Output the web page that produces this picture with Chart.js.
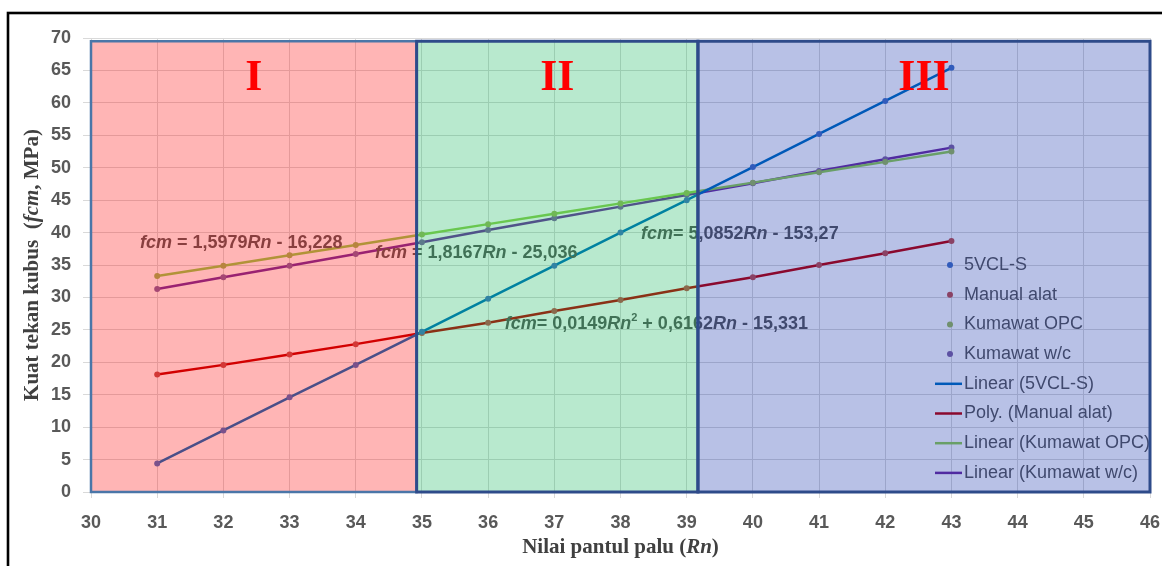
<!DOCTYPE html>
<html><head><meta charset="utf-8">
<script src="https://cdn.jsdelivr.net/npm/chart.js@4.4.1/dist/chart.umd.min.js"></script>
<style>html,body{margin:0;padding:0;background:#fff;}#wrap{width:1162px;height:566px;position:relative;}</style>
</head><body><div id="wrap"><canvas id="c" width="1162" height="566"></canvas></div>
<script>
// ---- data ----
const rn = [31, 32, 33, 34, 35, 36, 37, 38, 39, 40, 41, 42, 43];
const vcl5S = [4.4, 9.5, 14.6, 19.6, 24.7, 29.8, 34.9, 40.0, 45.0, 50.1, 55.2, 60.3, 65.4];
const manualAlat = [18.1, 19.6, 21.2, 22.8, 24.5, 26.1, 27.9, 29.6, 31.4, 33.1, 35.0, 36.8, 38.7];
const kumawatOPC = [33.3, 34.9, 36.5, 38.1, 39.7, 41.3, 42.9, 44.5, 46.1, 47.7, 49.3, 50.9, 52.5];
const kumawatWC = [31.3, 33.1, 34.9, 36.7, 38.5, 40.4, 42.2, 44.0, 45.8, 47.6, 49.5, 51.3, 53.1];
const seriesNames = ['5VCL-S', 'Manual alat', 'Kumawat OPC', 'Kumawat w/c'];
const trendNames = ['Linear (5VCL-S)', 'Poly. (Manual alat)', 'Linear (Kumawat OPC)', 'Linear (Kumawat w/c)'];
const xTickValues = [30, 31, 32, 33, 34, 35, 36, 37, 38, 39, 40, 41, 42, 43, 44, 45, 46];
const yTickValues = [0, 5, 10, 15, 20, 25, 30, 35, 40, 45, 50, 55, 60, 65, 70];
const zoneBounds = [30, 34.92, 39.17, 46];
const zoneNames = ['I', 'II', 'III'];
const eqTexts = [
  [['fcm','i'], [' = 1,5979',''], ['Rn','i'], [' - 16,228','']],
  [['fcm','i'], [' = 1,8167',''], ['Rn','i'], [' - 25,036','']],
  [['fcm','i'], ['= 5,0852',''], ['Rn','i'], [' - 153,27','']],
  [['fcm','i'], ['= 0,0149',''], ['Rn','i'], ['2','sup'], [' + 0,6162',''], ['Rn','i'], [' - 15,331','']]
];
const yTitle = [['Kuat tekan kubus  (',''], ['fcm','i'], [', MPa)','']];
const xTitle = [['Nilai pantul palu (',''], ['Rn','i'], [')','']];

// ---- styles ----
const SANS = '"Liberation Sans", Arial, sans-serif';
const SERIF = '"Liberation Serif", "Times New Roman", serif';
const markerColors = ['#4472C4', '#C0504D', '#9BBB59', '#8064A2'];
const trendColors = ['#0070C0', '#C00000', '#92D050', '#7030A0'];
const zoneFills = ['rgba(255,0,0,0.29)', 'rgba(0,176,80,0.28)', 'rgba(0,32,166,0.28)'];
const zoneStroke = ['#4A76A8', '#2E4B8A', '#2E4B8A'];
const eqPos = [[30.74, 38.4], [34.29, 36.85], [38.31, 39.8], [36.25, 25.9]];

const pts = ys => rn.map((x, i) => ({x, y: ys[i]}));
const allSeries = [vcl5S, manualAlat, kumawatOPC, kumawatWC];

const datasets = [];
allSeries.forEach((s, i) => datasets.push({
  label: seriesNames[i], data: pts(s), showLine: false,
  pointRadius: 3, pointBackgroundColor: markerColors[i], pointBorderColor: markerColors[i],
  pointBorderWidth: 0, order: 0, kind: 'marker'
}));
allSeries.forEach((s, i) => datasets.push({
  label: trendNames[i], data: pts(s), showLine: true, pointRadius: 0,
  borderColor: trendColors[i], borderWidth: 2.5, tension: 0, fill: false, order: 1, kind: 'trend'
}));

function drawParts(ctx, parts, x, y, size, family, align) {
  const fontOf = st => st === 'i' ? `italic bold ${size}px ${family}` :
                       st === 'sup' ? `bold ${Math.round(size*0.62)}px ${family}` : `bold ${size}px ${family}`;
  let total = 0;
  const ws = parts.map(([t, st]) => { ctx.font = fontOf(st); const w = ctx.measureText(t).width; total += w; return w; });
  let cx = align === 'center' ? x - total / 2 : x;
  ctx.textBaseline = 'middle';
  ctx.textAlign = 'left';
  parts.forEach(([t, st], k) => {
    ctx.font = fontOf(st);
    ctx.fillText(t, cx, st === 'sup' ? y - size * 0.33 : y);
    cx += ws[k];
  });
}

const overlayPlugin = {
  id: 'overlay',
  afterDatasetsDraw(chart) {
    const {ctx, scales: {x, y}} = chart;
    ctx.save();
    // legend (inside plot, under the zone tint)
    const lx = 950, ly0 = 265, dy = 29.7;
    chart.data.datasets.forEach((ds, i) => {
      const yy = ly0 + i * dy;
      if (ds.kind === 'marker') {
        ctx.fillStyle = ds.pointBackgroundColor;
        ctx.beginPath(); ctx.arc(lx, yy, 3, 0, Math.PI * 2); ctx.fill();
      } else {
        ctx.strokeStyle = ds.borderColor; ctx.lineWidth = 2.5;
        ctx.beginPath(); ctx.moveTo(935, yy); ctx.lineTo(962, yy); ctx.stroke();
      }
      ctx.fillStyle = '#595959';
      ctx.font = `18px ${SANS}`;
      ctx.textBaseline = 'middle'; ctx.textAlign = 'left';
      ctx.fillText(ds.label, 964, yy);
    });
    // equation labels
    ctx.fillStyle = '#595959';
    eqTexts.forEach((p, i) => drawParts(ctx, p, x.getPixelForValue(eqPos[i][0]), y.getPixelForValue(eqPos[i][1]), 18, SANS, 'left'));
    // zone tints
    const yTop = y.getPixelForValue(69.5), yBot = y.getPixelForValue(0);
    zoneFills.forEach((c, i) => {
      const x0 = x.getPixelForValue(zoneBounds[i]), x1 = x.getPixelForValue(zoneBounds[i + 1]);
      ctx.fillStyle = c; ctx.fillRect(x0, yTop, x1 - x0, yBot - yTop);
    });
    zoneStroke.forEach((c, i) => {
      const x0 = x.getPixelForValue(zoneBounds[i]), x1 = x.getPixelForValue(zoneBounds[i + 1]);
      ctx.strokeStyle = c; ctx.lineWidth = i === 0 ? 2.5 : 3;
      ctx.strokeRect(x0, yTop, x1 - x0, yBot - yTop);
    });
    // roman numerals
    ctx.fillStyle = '#FF0000';
    ctx.font = `bold 44px ${SERIF}`;
    ctx.textAlign = 'center'; ctx.textBaseline = 'middle';
    zoneNames.forEach((n, i) => {
      const cx = x.getPixelForValue((zoneBounds[i] + zoneBounds[i + 1]) / 2);
      ctx.fillText(n, cx, y.getPixelForValue(64) + 2);
    });
    ctx.restore();
  },
  afterDraw(chart) {
    const {ctx, chartArea: a} = chart;
    ctx.save();
    ctx.fillStyle = '#404040';
    drawParts(ctx, xTitle, (a.left + a.right) / 2, 548, 21, SERIF, 'center');
    ctx.translate(33, (a.top + a.bottom) / 2);
    ctx.rotate(-Math.PI / 2);
    drawParts(ctx, yTitle, 0, 0, 21, SERIF, 'center');
    ctx.restore();
    ctx.save();
    ctx.strokeStyle = '#000'; ctx.lineWidth = 2.6;
    ctx.strokeRect(8, 13, 1300, 700);
    ctx.restore();
  }
};

new Chart(document.getElementById('c'), {
  type: 'scatter',
  data: {datasets},
  options: {
    responsive: false, animation: false,
    layout: {padding: {left: 0, top: 38, right: 12, bottom: 0}},
    plugins: {legend: {display: false}, tooltip: {enabled: false}},
    scales: {
      x: {
        type: 'linear', min: 30, max: 46,
        afterBuildTicks: ax => { ax.ticks = xTickValues.map(v => ({value: v})); },
        ticks: {color: '#595959', font: {family: SANS, size: 18, weight: 'bold'}, padding: 14, maxRotation: 0, autoSkip: false},
        grid: {color: '#D9D9D9', lineWidth: 1, tickLength: 6},
        border: {display: false},
        afterFit: s => { s.height = 74; s.paddingLeft = 0; s.paddingRight = 0; }
      },
      y: {
        min: 0, max: 70,
        afterBuildTicks: ax => { ax.ticks = yTickValues.map(v => ({value: v})); },
        ticks: {color: '#595959', font: {family: SANS, size: 18, weight: 'bold'}, padding: 12, autoSkip: false},
        grid: {color: '#D9D9D9', lineWidth: 1, tickLength: 8},
        border: {display: false},
        afterFit: s => { s.width = 91; s.paddingTop = 0; s.paddingBottom = 0; }
      }
    }
  },
  plugins: [overlayPlugin]
});
</script></body></html>
